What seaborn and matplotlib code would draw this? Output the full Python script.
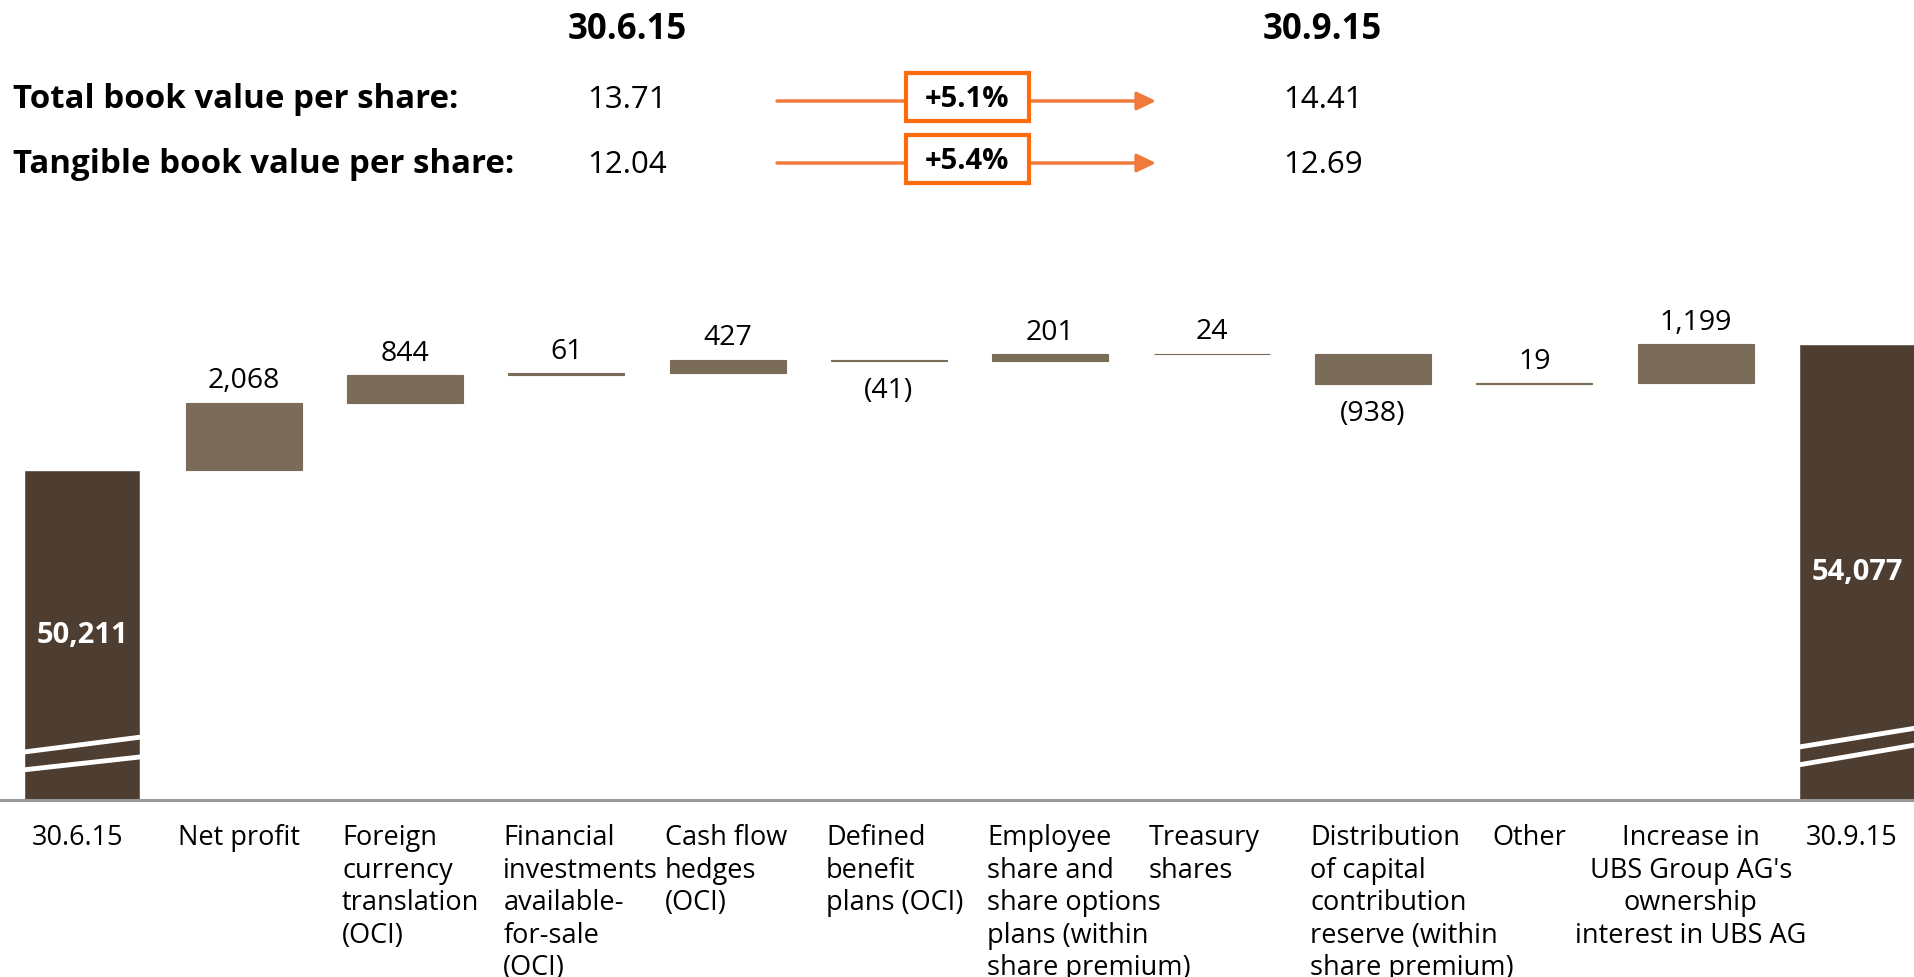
import numpy as np
import pandas as pd
import matplotlib
matplotlib.use("Agg")
import matplotlib.pyplot as plt
from matplotlib.patches import Rectangle, FancyArrowPatch
import seaborn as sns

# --- DATA ---
CATEGORIES = [
    "30.6.15",
    "Net profit",
    "Foreign\ncurrency\ntranslation\n(OCI)",
    "Financial\ninvestments\navailable-\nfor-sale\n(OCI)",
    "Cash flow\nhedges\n(OCI)",
    "Defined\nbenefit\nplans (OCI)",
    "Employee\nshare and\nshare options\nplans (within\nshare premium)",
    "Treasury\nshares",
    "Distribution\nof capital\ncontribution\nreserve (within\nshare premium)",
    "Other",
    "Increase in\nUBS Group AG's\nownership\ninterest in UBS AG",
    "30.9.15",
]
START_TOTAL = 50211
END_TOTAL = 54077
CHANGES = [2068, 844, 61, 427, -41, 201, 24, -938, 19, 1199]

HEADER_DATES = ["30.6.15", "30.9.15"]
HEADER_ROWS = ["Total book value per share:", "Tangible book value per share:"]
BV_START = ["13.71", "12.04"]
BV_END = ["14.41", "12.69"]
BV_CHANGE = ["+5.1%", "+5.4%"]

# --- STYLE ---
TOTAL_COLOR = "#4E3D31"
DELTA_COLOR = "#7B6C59"
ORANGE_BOX = "#FF6A0D"
ORANGE_ARROW = "#F07A3C"
LABEL_ALIGN = ["center", "center", "left", "left", "left", "left",
               "left", "left", "left", "center", "center", "center"]
W, H = 1915, 977
Y_MIN, Y_MAX = 40063, 55289   # broken axis window
BAR_W = 0.72

sns.set_style("white")
plt.rcParams["font.family"] = ["Open Sans", "DejaVu Sans"]
plt.rcParams["text.color"] = "black"


def fx(x):
    return x / W


def fy(y):
    return 1 - y / H


fig = plt.figure(figsize=(W / 100, H / 100), dpi=100)
ax = fig.add_axes([0, fy(800), 1, (800 - 305) / H])

# total bars
totals = pd.DataFrame({"step": [CATEGORIES[0], CATEGORIES[-1]],
                       "value": [START_TOTAL, END_TOTAL]})
sns.barplot(data=totals, x="step", y="value", order=CATEGORIES,
            color=TOTAL_COLOR, saturation=1, width=BAR_W, ax=ax)

# floating change bars
levels = START_TOTAL + np.cumsum([0] + CHANGES)
bottoms = np.minimum(levels[:-1], levels[1:])
heights = np.abs(CHANGES)
xs = np.arange(1, len(CHANGES) + 1)
ax.bar(xs, heights, bottom=bottoms, width=BAR_W, color=DELTA_COLOR,
       edgecolor=DELTA_COLOR, linewidth=0.8)

for x, c, b, h in zip(xs, CHANGES, bottoms, heights):
    if c >= 0:
        ax.annotate(f"{c:,}", (x, b + h), xytext=(0, 15.5),
                    textcoords="offset points", ha="center", va="center",
                    fontsize=20.5)
    else:
        ax.annotate(f"({-c:,})", (x, b), xytext=(0, -21.5),
                    textcoords="offset points", ha="center", va="center",
                    fontsize=20.5)

for i, v in [(0, START_TOTAL), (len(CATEGORIES) - 1, END_TOTAL)]:
    ax.text(i, (v + Y_MIN) / 2, f"{v:,}", ha="center", va="center",
            color="white", fontsize=21, fontweight="bold")

# axis break marks
xt = ax.get_xaxis_transform()
breaks = {0: [(0.061, 0.087), (0.097, 0.127)],
          len(CATEGORIES) - 1: [(0.071, 0.111), (0.107, 0.145)]}
for i, lines in breaks.items():
    for yl, yr in lines:
        ax.plot([i - BAR_W / 2, i + BAR_W / 2], [yl, yr], transform=xt,
                color="white", lw=3.5, solid_capstyle="butt", zorder=4)

# category labels
for i, (lab, al) in enumerate(zip(CATEGORIES, LABEL_ALIGN)):
    x = i - BAR_W / 2 - 0.03 if al == "left" else i - 0.03
    ax.text(x, -0.0485, lab, transform=xt, ha=al, va="top",
            multialignment=al, fontsize=19.5, linespacing=1.22)

ax.set_xlim(-0.51, 11.36)
ax.set_ylim(Y_MIN, Y_MAX)
ax.set_xticks([])
ax.set_yticks([])
ax.set_xlabel("")
ax.set_ylabel("")
for side in ["top", "left", "right"]:
    ax.spines[side].set_visible(False)
ax.spines["bottom"].set_color("#999999")
ax.spines["bottom"].set_linewidth(2.2)

# --- header ---
for d, x in zip(HEADER_DATES, [627, 1322]):
    fig.text(fx(x), fy(39), d, ha="center", va="baseline",
             fontsize=25, fontweight="bold")

row_base = [108, 173]
box_top = [73, 135]
for k in range(2):
    yb = row_base[k]
    fig.text(fx(13), fy(yb), HEADER_ROWS[k], ha="left", va="baseline",
             fontsize=23.8, fontweight="bold")
    fig.text(fx(627), fy(yb), BV_START[k], ha="center", va="baseline",
             fontsize=22.5)
    fig.text(fx(1323), fy(yb), BV_END[k], ha="center", va="baseline",
             fontsize=22.5)
    ya = box_top[k] + 28
    fig.add_artist(FancyArrowPatch(
        (fx(777), fy(ya)), (fx(1156), fy(ya)), transform=fig.transFigure,
        arrowstyle="-|>,head_length=0.52,head_width=0.25", mutation_scale=22,
        color=ORANGE_ARROW, lw=2.5, shrinkA=0, shrinkB=0))
    fig.add_artist(Rectangle((fx(906), fy(box_top[k] + 48)), 123 / W, 48 / H,
                             transform=fig.transFigure, facecolor="white",
                             edgecolor=ORANGE_BOX, lw=3, zorder=5))
    fig.text(fx(967), fy(box_top[k] + 34), BV_CHANGE[k], ha="center",
             va="baseline", fontsize=21, fontweight="bold", zorder=6)

fig.savefig("out.png", dpi=100)
